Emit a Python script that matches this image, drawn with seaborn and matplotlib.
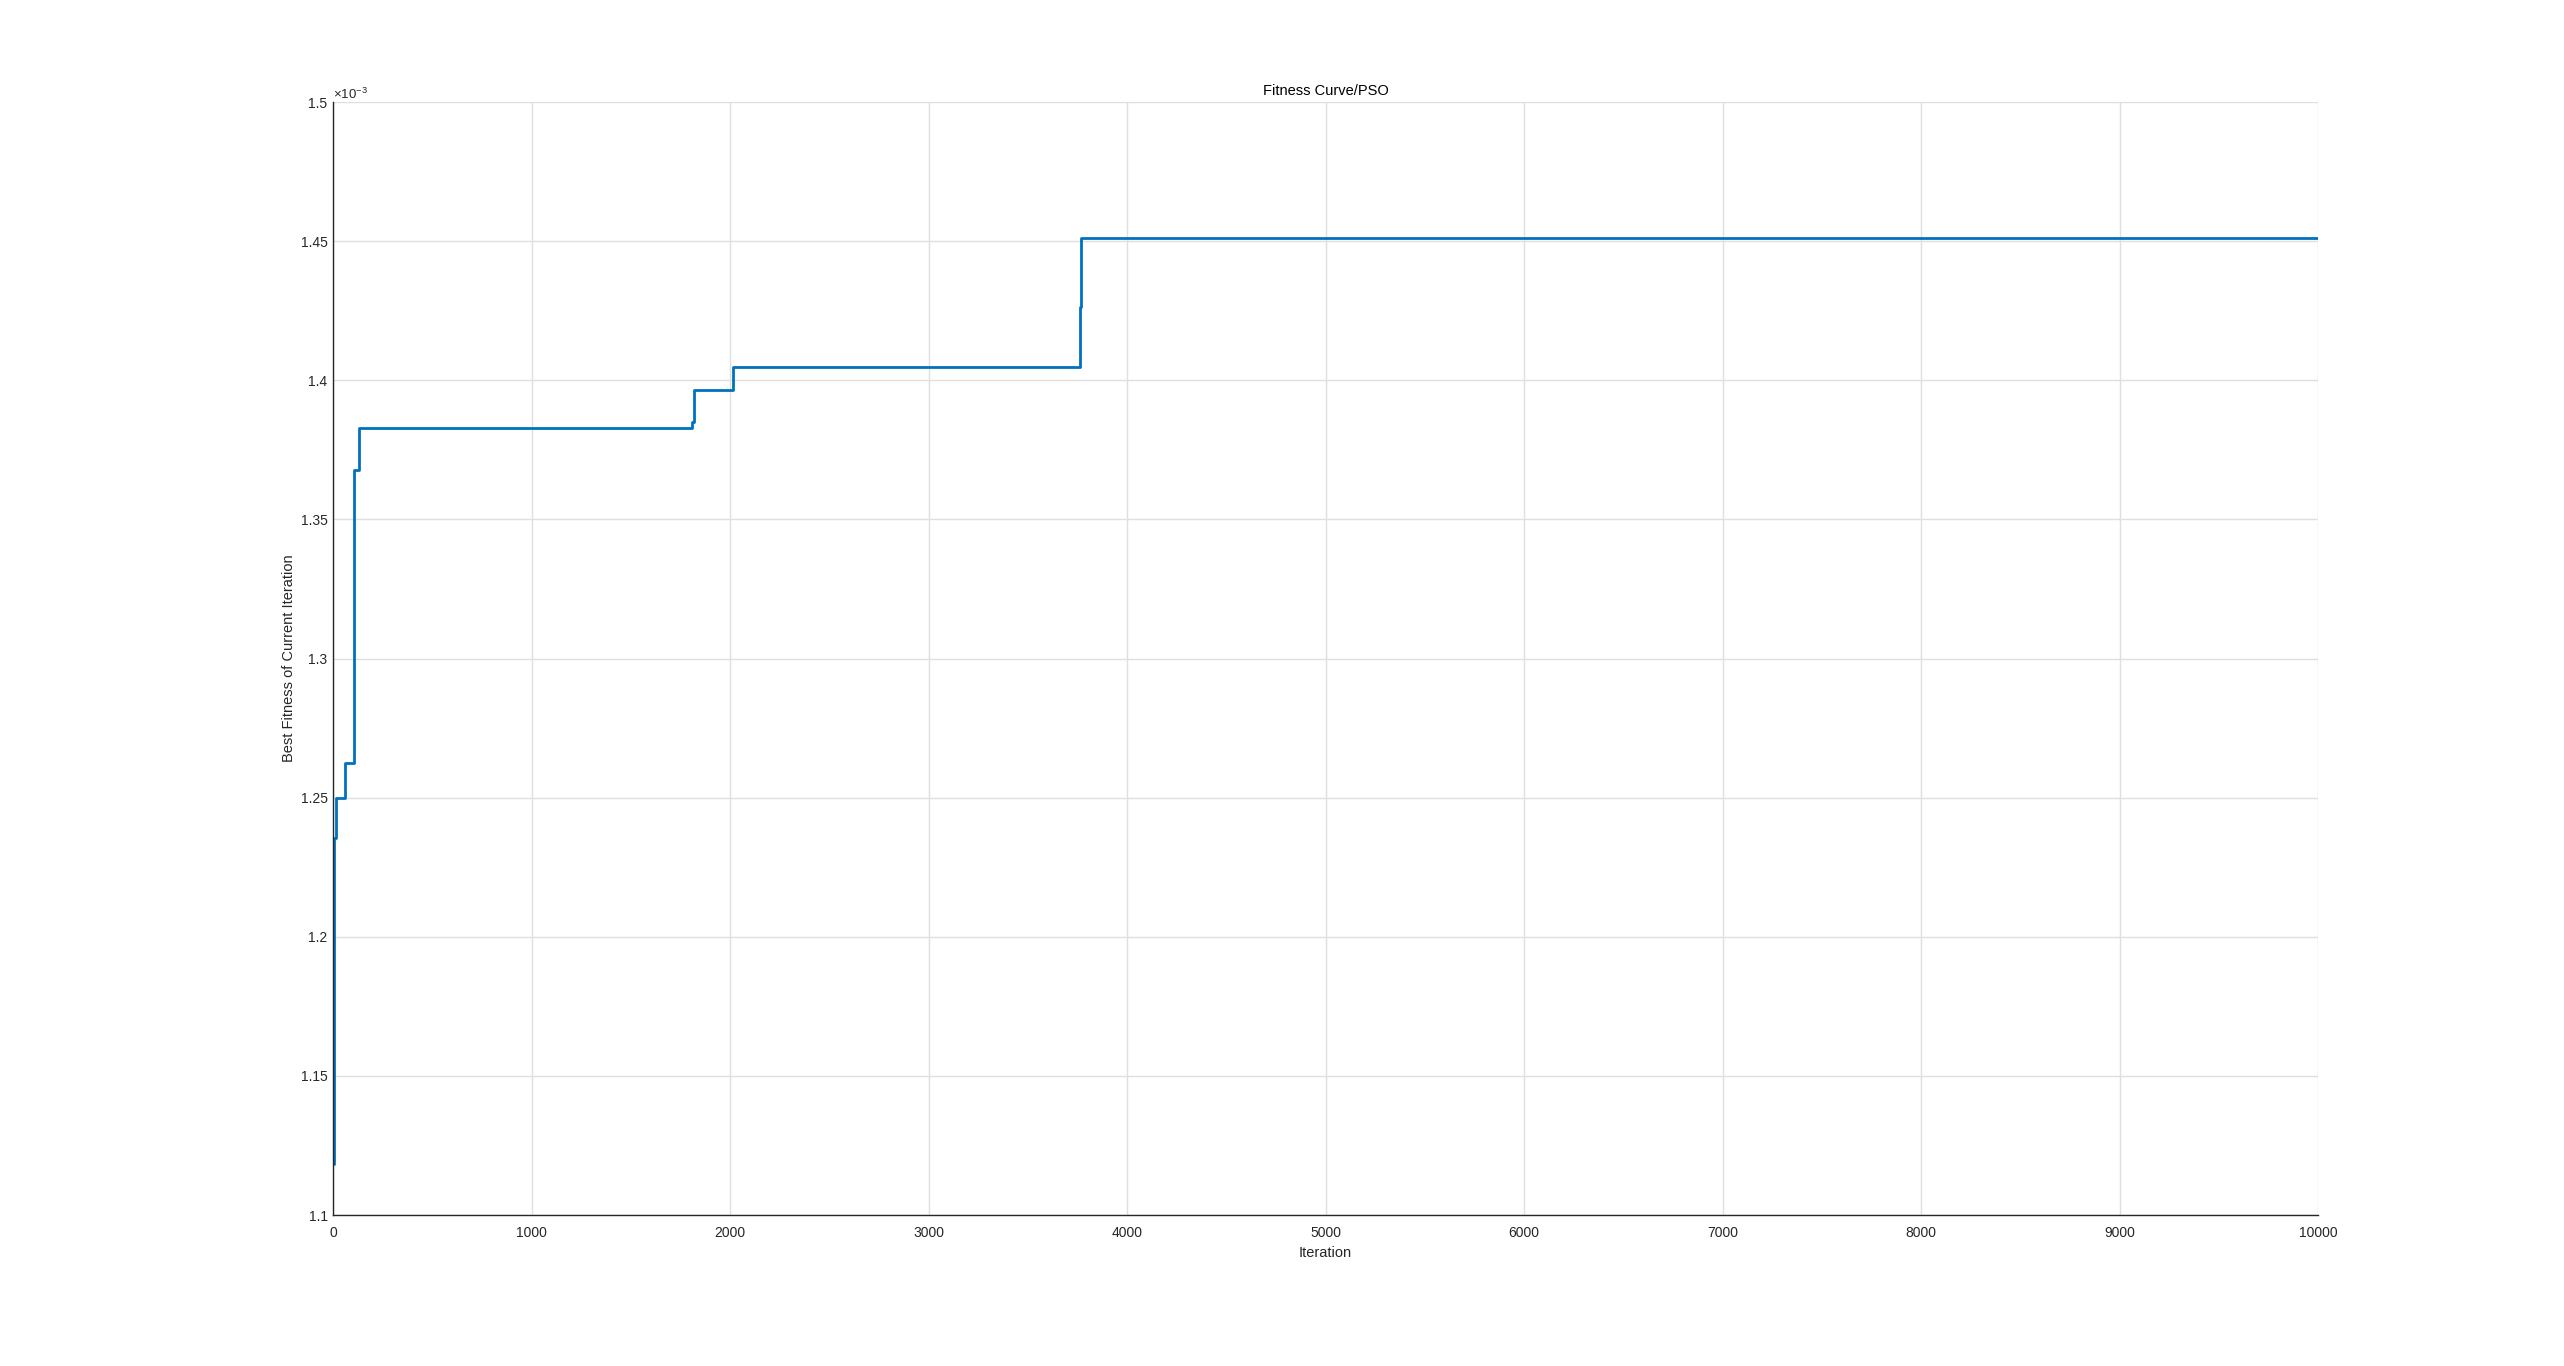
# Fitness curve of the PSO run (best fitness per iteration)
import numpy as np
import pandas as pd
import matplotlib
matplotlib.use("Agg")
import matplotlib.pyplot as plt
from matplotlib.ticker import FuncFormatter
import seaborn as sns

# ---------- DATA ----------
# iteration where the best fitness changes, and the new best value (x 1e-3)
step_iter = [1, 3, 15, 59, 106, 133, 1810, 1820, 2013, 3761, 3766, 10000]
best_fit = [1.1183, 1.2356, 1.2498, 1.2624, 1.3677, 1.3828,
            1.3850, 1.3964, 1.4046, 1.4263, 1.4512, 1.4512]

x_ticks = [0, 1000, 2000, 3000, 4000, 5000, 6000, 7000, 8000, 9000, 10000]
y_ticks = [1.10, 1.15, 1.20, 1.25, 1.30, 1.35, 1.40, 1.45, 1.50]

df = pd.DataFrame({"Iteration": step_iter,
                   "Fitness": np.array(best_fit) * 1e-3})

# ---------- STYLE ----------
sns.set_style("white")
plt.rcParams["font.family"] = ["Liberation Sans", "DejaVu Sans"]
plt.rcParams["mathtext.fontset"] = "custom"
plt.rcParams["mathtext.rm"] = "Liberation Sans"

dark = "#262626"

fig = plt.figure(figsize=(25.64, 13.66), dpi=100)
ax = fig.add_axes([0.1299, 0.1105, 0.7742, 0.8148])

sns.lineplot(data=df, x="Iteration", y="Fitness", ax=ax,
             color="#0072BD", linewidth=2.0, drawstyle="steps-post",
             estimator=None)

ax.set_xlim(0, 10000)
ax.set_ylim(1.1e-3, 1.5e-3)
ax.set_xticks(x_ticks)
ax.set_yticks([v * 1e-3 for v in y_ticks])
ax.xaxis.set_major_formatter(FuncFormatter(lambda v, p: f"{v:g}"))
ax.yaxis.set_major_formatter(FuncFormatter(lambda v, p: f"{round(v * 1e3, 4):g}"))

ax.grid(True, color="#dfdfdf", linewidth=1.0)
ax.set_axisbelow(True)
for side in ["top", "right"]:
    ax.spines[side].set_visible(False)
for side in ["left", "bottom"]:
    ax.spines[side].set_color(dark)
    ax.spines[side].set_linewidth(1.0)

ax.tick_params(axis="both", direction="in", length=14, width=0.8,
               colors=dark, labelsize=10, pad=4)
ax.tick_params(axis="x", pad=8)

ax.set_title("Fitness Curve/PSO", fontsize=10.5, color="#000000", pad=5)
ax.set_xlabel("Iteration", fontsize=10.5, color=dark, labelpad=4)
ax.set_ylabel("Best Fitness of Current Iteration", fontsize=10.5,
              color=dark, labelpad=3)

# MATLAB style exponent label at top of y axis
ax.text(0.0, 1.0, r"$\times10^{-3}$", transform=ax.transAxes,
        ha="left", va="bottom", fontsize=9.5, color=dark)

fig.savefig("out.png", dpi=100)
